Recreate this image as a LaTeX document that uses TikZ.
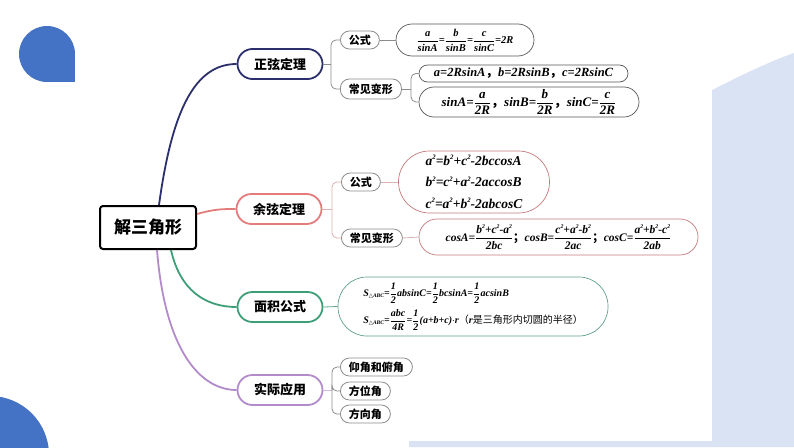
\documentclass[tikz,border=0pt]{standalone}
\usepackage{fontspec}
\usepackage{graphicx}
\newfontfamily\cjk{Noto Sans CJK SC}
\newfontfamily\fm{Liberation Serif}
\newfontfamily\djf{DejaVu Sans}
\usetikzlibrary{calc}
\definecolor{bgblue}{HTML}{DAE3F3}
\definecolor{dropblue}{HTML}{4472C4}
\definecolor{navy}{HTML}{2B2F6B}
\definecolor{salmon}{HTML}{E47C7C}
\definecolor{mgreen}{HTML}{3E9E78}
\definecolor{mpurple}{HTML}{B38BCB}
\definecolor{lgray}{HTML}{8C8C8C}
\definecolor{fgray}{HTML}{555555}
\definecolor{fred}{HTML}{C47A7C}
\definecolor{fgreen}{HTML}{5FA08A}
\newcommand\fr[2]{$\displaystyle{\hbox{#1}\over\hbox{#2}}$}
\newcommand\sq{\raisebox{0.42em}{\scalebox{0.5}{2}}}
\newcommand\tri{\raisebox{-1.5pt}{\fontsize{5.5}{5.5}\selectfont{\djf △}ABC}}
\newcommand\cm[1]{{\cjk\bfseries #1}}
\tikzset{
  mainbox/.style={draw=black, line width=2pt, rounded corners=3pt, fill=white,
    minimum width=96pt, minimum height=43pt, inner sep=0pt,
    font=\cjk\bfseries\fontsize{17}{17}\selectfont},
  lone/.style={draw=#1, line width=1.8pt, rounded corners=15pt, fill=white,
    minimum width=85pt, minimum height=30pt, inner sep=0pt,
    font=\cjk\bfseries\fontsize{13}{13}\selectfont},
  ltwo/.style={draw=lgray, line width=0.8pt, rounded corners=9pt, fill=white,
    minimum height=18pt, inner xsep=8.5pt, inner ysep=0pt, anchor=west,
    font=\cjk\bfseries\fontsize{11}{11}\selectfont},
  fbox/.style={draw=#1, line width=0.7pt, fill=white, inner sep=0pt,
    font=\fm\bfseries\itshape},
  conn/.style={draw=#1, line width=1.8pt},
  brk/.style={draw=#1, line width=0.8pt, rounded corners=5pt},
}
\begin{document}
\begin{tikzpicture}[x=1pt,y=-1pt]
\useasboundingbox (0,0) rectangle (794,447);
\begin{scope}
\clip (0,0) rectangle (794,447);
% background decorations
\fill[bgblue] (712,90) .. controls (740,76) and (768,62) .. (794,53) -- (794,447)
  -- (409,447) -- (409,441) -- (712,441) -- cycle;
\fill[dropblue] (47,54) circle[radius=28];
\fill[dropblue] (47,54) rectangle (75,82);
\fill[dropblue] (-10,455) circle[radius=59];
\end{scope}

% main node
\node[mainbox] (main) at (148,227.5) {解三角形};

% level one
\node[lone=navy] (zx) at (280,64) {正弦定理};
\node[lone=salmon] (yx) at (279,209) {余弦定理};
\node[lone=mgreen] (mj) at (280,307) {面积公式};
\node[lone=mpurple] (sj) at (280,390) {实际应用};

\draw[conn=navy] ($(main.north west)+(60,0)$) .. controls (172,110) and (195,64) .. (zx.west);
\draw[conn=salmon] ($(main.north east)+(0,9)$) .. controls (215,209) and (222,209) .. (yx.west);
\draw[conn=mgreen] ($(main.south west)+(72,0)$) .. controls (180,290) and (205,307) .. (mj.west);
\draw[conn=mpurple] ($(main.south west)+(58,0)$) .. controls (165,350) and (200,390) .. (sj.west);

% ---------- sine branch
\node[ltwo] (gs1) at (340,40) {公式};
\node[ltwo, minimum height=20pt] (bx1) at (340,89) {常见变形};
\coordinate (b1) at (331,64);
\draw[brk=lgray] (zx.east) -- (b1);
\draw[brk=lgray] (b1) |- (gs1.west);
\draw[brk=lgray] (b1) |- (bx1.west);

\node[fbox=fgray, rounded corners=16pt, minimum width=138pt, minimum height=32pt,
  font=\fm\bfseries\itshape\fontsize{10.5}{10.5}\selectfont] (f1) at (465,40)
  {\fr{a}{sinA}=\fr{b}{sinB}=\fr{c}{sinC}=2R};
\draw[brk=lgray] (gs1.east) -- (f1.west);

\node[fbox=fgray, rounded corners=8.5pt, minimum width=209pt, minimum height=17pt,
  font=\fm\bfseries\itshape\fontsize{12.5}{12.5}\selectfont] (f2) at (523.5,73.5)
  {a=2RsinA\cm{，}b=2RsinB\cm{，}c=2RsinC};
\node[fbox=fgray, rounded corners=15pt, minimum width=220pt, minimum height=30pt,
  font=\fm\bfseries\itshape\fontsize{13}{13}\selectfont] (f3) at (529,102)
  {sinA=\fr{a}{2R}\cm{，}sinB=\fr{b}{2R}\cm{，}sinC=\fr{c}{2R}};
\coordinate (b2) at (411,89);
\draw[brk=lgray] (bx1.east) -- (b2);
\draw[brk=lgray] (b2) |- (f2.west);
\draw[brk=lgray] (b2) |- (f3.west);

% ---------- cosine branch
\node[ltwo] (gs2) at (341,182) {公式};
\node[ltwo] (bx2) at (341,238) {常见变形};
\coordinate (b3) at (332,209);
\draw[brk=fred!60] (yx.east) -- (b3);
\draw[brk=fred!60] (b3) |- (gs2.west);
\draw[brk=fred!60] (b3) |- (bx2.west);

\node[fbox=fred, rounded corners=31pt, minimum width=151pt, minimum height=62pt,
  align=left, font=\fm\bfseries\itshape\fontsize{13.5}{21.5}\selectfont] (f4) at (474,182)
  {a\sq=b\sq+c\sq-2bccosA\\ b\sq=c\sq+a\sq-2accosB\\ c\sq=a\sq+b\sq-2abcosC};
\draw[brk=fred!60] (gs2.east) -- (f4.west);

\node[fbox=fred, rounded corners=18pt, minimum width=279pt, minimum height=36pt,
  font=\fm\bfseries\itshape\fontsize{11.5}{11.5}\selectfont] (f5) at (558.5,237)
  {cosA=\fr{b\sq+c\sq-a\sq}{2bc}\cm{；}cosB=\fr{c\sq+a\sq-b\sq}{2ac}\cm{；}cosC=\fr{a\sq+b\sq-c\sq}{2ab}};
\draw[brk=fred!60] (bx2.east) -- (f5.west);

% ---------- area branch
\node[fbox=fgreen, rounded corners=29pt, minimum width=270pt, minimum height=59pt,
  align=left, font=\fm\bfseries\itshape\fontsize{10}{27}\selectfont] (f6) at (473,306.5)
  {S\tri=\fr{1}{2}absinC=\fr{1}{2}bcsinA=\fr{1}{2}acsinB\\
   S\tri=\fr{abc}{4R}=\fr{1}{2}(a+b+c)$\cdot$r{\cjk\mdseries\upshape（}r{\cjk\mdseries\upshape 是三角形内切圆的半径）}};
\draw[brk=fgreen] (mj.east) -- (f6.west);

% ---------- practical branch
\node[ltwo] (c1) at (340,367) {仰角和俯角};
\node[ltwo] (c2) at (340,391) {方位角};
\node[ltwo] (c3) at (340,414) {方向角};
\coordinate (b4) at (332,390);
\draw[brk=mpurple!60] (sj.east) -- (b4);
\draw[brk=lgray] (b4) |- (c1.west);
\draw[brk=lgray] (b4) |- (c2.west);
\draw[brk=lgray] (b4) |- (c3.west);
\end{tikzpicture}
\end{document}
